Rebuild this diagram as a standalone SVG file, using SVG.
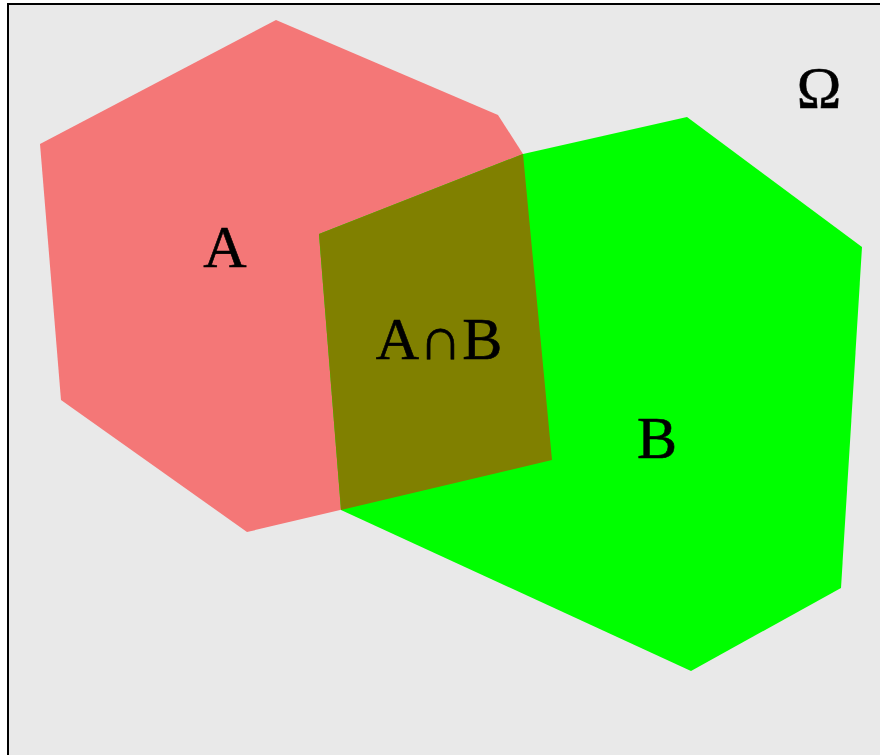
<svg xmlns="http://www.w3.org/2000/svg" width="880" height="755" viewBox="0 0 880 755">
<style>
.lbl{font-family:"Liberation Serif","Times New Roman",serif;font-size:60px;fill:#000;stroke:#000;stroke-width:0.6;text-anchor:middle}
</style>
<rect x="8" y="4" width="880" height="760" fill="#e9e9e9" stroke="#000" stroke-width="2"/>
<g id="setA"><polygon points="40,144 276,20 498,115 523,154 552,460 247,532 61,400" fill="#f47777"/></g>
<g id="setB"><polygon points="319,234 523,154 687,117 862,247 841,588 691,671 341,510" fill="#00ff00"/></g>
<g id="intersection"><polygon points="319,234 523,154 552,460 341,510" fill="#808000"/></g>
<g id="labels">
<text class="lbl" x="225" y="267">A</text>
<text class="lbl" x="439" y="359">A∩B</text>
<text class="lbl" x="657" y="458">B</text>
<text class="lbl" x="819" y="108">Ω</text>
</g>
</svg>
